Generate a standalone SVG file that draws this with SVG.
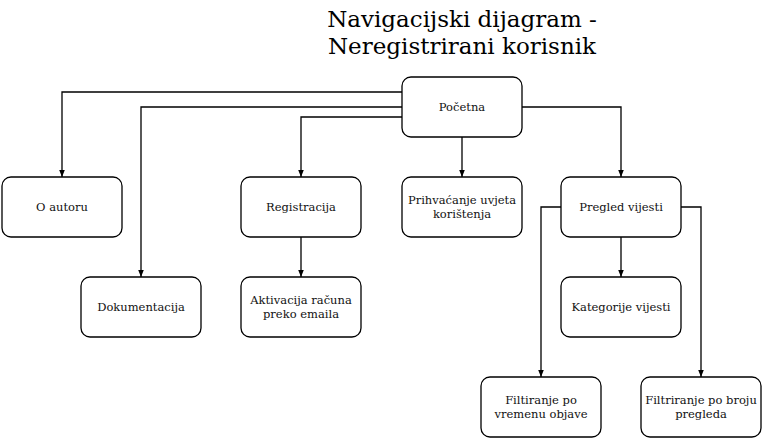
<svg xmlns="http://www.w3.org/2000/svg" width="763" height="438" viewBox="0 0 763 438">
<style>
.n rect{fill:#fff;stroke:#000;stroke-width:1.3}
.n text{font-family:"DejaVu Serif","Liberation Serif",serif;font-size:11.5px;text-anchor:middle;fill:#111}
.e path{fill:none;stroke:#000;stroke-width:1.3;marker-end:url(#a)}
.t{font-family:"DejaVu Serif","Liberation Serif",serif;font-size:23px;text-anchor:middle;fill:#000}
</style>
<defs><marker id="a" viewBox="0 0 10 10" refX="10" refY="5" markerWidth="7" markerHeight="7" markerUnits="userSpaceOnUse" orient="auto"><path d="M0,1 L10,5 L0,9 Z" fill="#000"/></marker></defs>
<rect width="763" height="438" fill="#fff"/>
<g id="title"><text class="t" x="462" y="27">Navigacijski dijagram -</text><text class="t" x="462" y="54">Neregistrirani korisnik</text></g>
<g class="e" id="edges">
<path d="M402,92 H62 V177"/>
<path d="M402,107 H141 V277"/>
<path d="M402,117 H301 V177"/>
<path d="M462,137 V177"/>
<path d="M522,107 H621 V177"/>
<path d="M301,237 V277"/>
<path d="M621,237 V277"/>
<path d="M561,207 H541 V377"/>
<path d="M681,207 H701 V377"/>
</g>
<g class="n" id="pocetna"><rect x="402" y="77" width="120" height="60" rx="9"/><text x="462" y="111">Početna</text></g>
<g class="n" id="oautoru"><rect x="2" y="177" width="120" height="60" rx="9"/><text x="62" y="211">O autoru</text></g>
<g class="n" id="registracija"><rect x="241" y="177" width="120" height="60" rx="9"/><text x="301" y="211">Registracija</text></g>
<g class="n" id="prihvacanje"><rect x="402" y="177" width="120" height="60" rx="9"/><text x="462" y="204">Prihvaćanje uvjeta</text><text x="462" y="218">korištenja</text></g>
<g class="n" id="pregled"><rect x="561" y="177" width="120" height="60" rx="9"/><text x="621" y="211">Pregled vijesti</text></g>
<g class="n" id="dokumentacija"><rect x="81" y="277" width="120" height="60" rx="9"/><text x="141" y="311">Dokumentacija</text></g>
<g class="n" id="aktivacija"><rect x="241" y="277" width="120" height="60" rx="9"/><text x="301" y="304">Aktivacija računa</text><text x="301" y="318">preko emaila</text></g>
<g class="n" id="kategorije"><rect x="561" y="277" width="120" height="60" rx="9"/><text x="621" y="311">Kategorije vijesti</text></g>
<g class="n" id="filtvrijeme"><rect x="481" y="377" width="120" height="60" rx="9"/><text x="541" y="404">Filtiranje po</text><text x="541" y="418">vremenu objave</text></g>
<g class="n" id="filtbroj"><rect x="641" y="377" width="120" height="60" rx="9"/><text x="701" y="404">Filtriranje po broju</text><text x="701" y="418">pregleda</text></g>
</svg>
